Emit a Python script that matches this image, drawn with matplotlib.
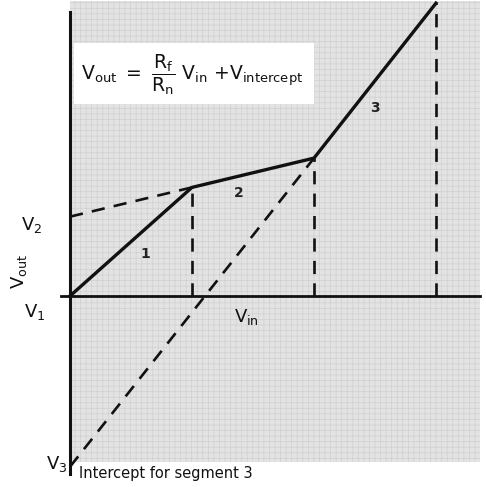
import matplotlib
matplotlib.use('Agg')
import matplotlib.pyplot as plt
from matplotlib.patches import Rectangle

plt.rcParams['font.family'] = ['DejaVu Sans']
plt.rcParams['hatch.linewidth'] = 0.5

# breakpoints of the piecewise-linear transfer curve
vin_break = [0.0, 1.0, 2.0, 3.0]
vout_break = [0.0, 0.89, 1.13, 2.40]
seg_labels = ['1', '2', '3']
# intercepts of the extended segments 2 and 3
v2 = 0.65
v3 = -1.40

INK = '#111111'

fig = plt.figure(figsize=(4.86, 4.87), dpi=100)
ax = fig.add_axes([0, 0, 1, 1])
ax.set_xlim(-0.574, 3.41)
ax.set_ylim(-1.566, 2.426)
ax.axis('off')

# stippled paper background of the plot region
ax.add_patch(Rectangle((0, -1.36), 3.36, 3.78, facecolor='#e3e3e3',
                       edgecolor='#d0d0d0', linewidth=0, hatch='+++', zorder=0))

# axes
ax.plot([0, 0], [-1.46, 2.33], color=INK, lw=2.2, zorder=3)
ax.plot([-0.07, 3.36], [0, 0], color=INK, lw=2.0, zorder=3)

# transfer curve
ax.plot(vin_break, vout_break, color=INK, lw=2.4, zorder=4)

# dashed construction lines
dash = dict(color=INK, lw=1.9, ls=(0, (5, 3.5)), zorder=3)
for x, y in zip(vin_break[1:], vout_break[1:]):
    ax.plot([x, x], [0, y], **dash)
ax.plot([0, vin_break[1]], [v2, vout_break[1]], **dash)
ax.plot([0, vin_break[2]], [v3, vout_break[2]], **dash)

# segment numbers
seg_pos = [(0.62, 0.34), (1.38, 0.84), (2.5, 1.54)]
for (x, y), s in zip(seg_pos, seg_labels):
    ax.text(x, y, s, fontsize=10, fontweight='bold', color='#222222',
            ha='center', va='center', zorder=5)

# equation box
ax.add_patch(Rectangle((0.03, 1.57), 1.97, 0.50, facecolor='white',
                       edgecolor='none', zorder=2))
ax.text(0.09, 1.81,
        r'$\mathregular{V_{out}\ =\ \dfrac{R_f}{R_n}\ V_{in}\ {+}V_{intercept}}$',
        fontsize=13.5, ha='left', va='center', color=INK, zorder=5)

# axis labels
ax.text(-0.42, 0.2, r'$\mathregular{V_{out}}$', fontsize=13, rotation=90,
        ha='center', va='center', color=INK)
ax.text(1.45, -0.17, r'$\mathregular{V_{in}}$', fontsize=13,
        ha='center', va='center', color=INK)
ax.text(-0.40, 0.58, r'$\mathregular{V_2}$', fontsize=13,
        ha='left', va='center', color=INK)
ax.text(-0.38, -0.13, r'$\mathregular{V_1}$', fontsize=13,
        ha='left', va='center', color=INK)
ax.text(-0.2, -1.38, r'$\mathregular{V_3}$', fontsize=13,
        ha='left', va='center', color=INK)
ax.text(0.07, -1.455, 'Intercept for segment 3', fontsize=10.5,
        ha='left', va='center', color=INK)

fig.savefig('out.png', dpi=100, facecolor='white')
